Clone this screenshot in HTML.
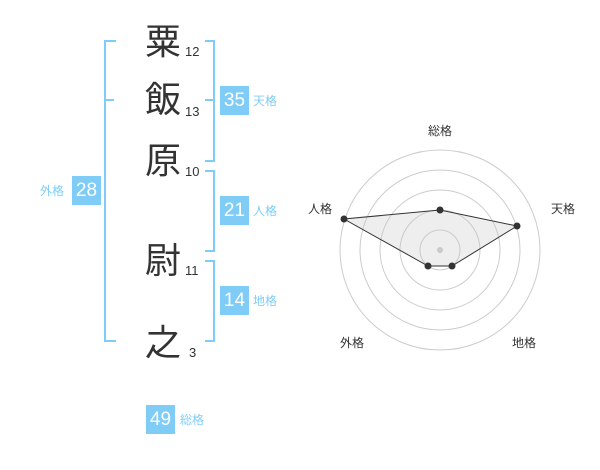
<!DOCTYPE html>
<html><head><meta charset="utf-8"><style>
body{margin:0;width:600px;height:470px;background:#fff;overflow:hidden;font-family:"Liberation Sans","Noto Sans CJK JP",sans-serif;position:relative}
.k{position:absolute;font-size:36px;color:#333;width:50px;text-align:center;line-height:40px}
.n{position:absolute;font-size:13px;color:#333;line-height:14px}
.b{position:absolute;background:#7fcdf7;color:#fff;font-size:19px;line-height:29px;text-align:center;width:29px;height:29px}
.l{position:absolute;color:#7fcdf7;font-size:12px;line-height:14px}
.v{position:absolute;border:2px solid #7fcdf7}
</style></head><body>
<div class="k" style="left:138px;top:22px">粟</div><div class="n" style="left:185px;top:45px">12</div>
<div class="k" style="left:138px;top:80px">飯</div><div class="n" style="left:185px;top:105px">13</div>
<div class="k" style="left:138px;top:141px">原</div><div class="n" style="left:185px;top:165px">10</div>
<div class="k" style="left:138px;top:241px">尉</div><div class="n" style="left:185px;top:264px">11</div>
<div class="k" style="left:138px;top:323px">之</div><div class="n" style="left:189px;top:346px">3</div>

<div class="v" style="left:205px;top:40px;width:8px;height:118px;border-left:none"></div>
<div class="v" style="left:205px;top:99px;width:8px;height:0;border-width:2px 0 0 0"></div>
<div class="v" style="left:205px;top:170px;width:8px;height:78px;border-left:none"></div>
<div class="v" style="left:205px;top:260px;width:8px;height:78px;border-left:none"></div>
<div class="v" style="left:104px;top:40px;width:10px;height:298px;border-right:none"></div>
<div class="v" style="left:104px;top:99px;width:10px;height:0;border-width:2px 0 0 0"></div>

<div class="b" style="left:220px;top:86px">35</div><div class="l" style="left:253px;top:94px">天格</div>
<div class="b" style="left:220px;top:196px">21</div><div class="l" style="left:253px;top:204px">人格</div>
<div class="b" style="left:220px;top:286px">14</div><div class="l" style="left:253px;top:294px">地格</div>
<div class="b" style="left:72px;top:176px">28</div><div class="l" style="left:40px;top:184px">外格</div>
<div class="b" style="left:146px;top:405px">49</div><div class="l" style="left:180px;top:413px">総格</div>

<svg style="position:absolute;left:0;top:0" width="600" height="470">
<g fill="none" stroke="#ccc" stroke-width="1">
<circle cx="440" cy="250" r="100"/><circle cx="440" cy="250" r="80"/><circle cx="440" cy="250" r="60"/><circle cx="440" cy="250" r="40"/><circle cx="440" cy="250" r="20"/>
</g>
<circle cx="440" cy="250" r="3" fill="#ccc"/>
<polygon points="440,210 517,226 452,266 428,266 344,219" fill="rgba(200,200,200,0.3)" stroke="#333" stroke-width="1"/>
<g fill="#333"><circle cx="440" cy="210" r="3.5"/><circle cx="517" cy="226" r="3.5"/><circle cx="452" cy="266" r="3.5"/><circle cx="428" cy="266" r="3.5"/><circle cx="344" cy="219" r="3.5"/></g>
<g font-size="12" fill="#333" text-anchor="middle" font-family="Liberation Sans,Noto Sans CJK JP,sans-serif">
<text x="440" y="135">総格</text><text x="563" y="213">天格</text><text x="524" y="347">地格</text><text x="352" y="347">外格</text><text x="320" y="213">人格</text>
</g>
</svg>
</body></html>
